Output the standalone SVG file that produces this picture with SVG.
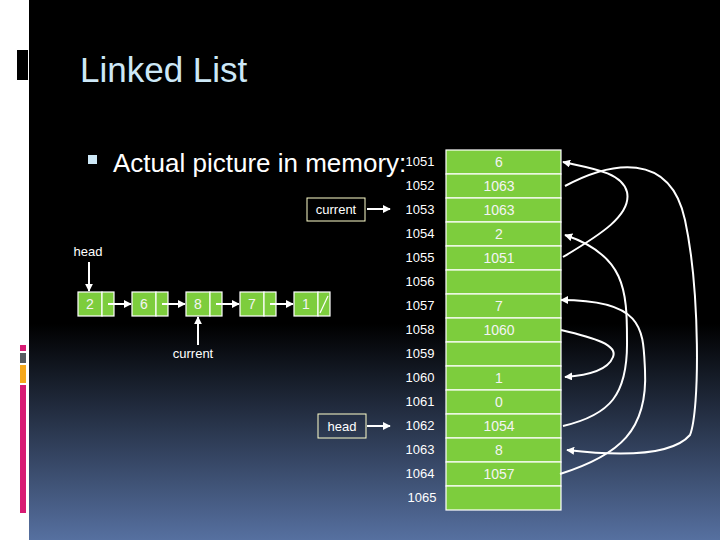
<svg xmlns="http://www.w3.org/2000/svg" width="720" height="540" viewBox="0 0 720 540">
<defs>
<linearGradient id="bg" x1="0" y1="0" x2="0" y2="1">
<stop offset="0" stop-color="#000"/><stop offset="0.6" stop-color="#000"/><stop offset="1" stop-color="#5670a0"/>
</linearGradient>
<marker id="ah" viewBox="0 0 10 10" refX="9" refY="5" markerWidth="4" markerHeight="4" orient="auto"><path d="M0,0L10,5L0,10z" fill="#fff"/></marker>
<style>
.c{fill:#7dcd3d;stroke:#fff;stroke-width:1.2}
.t{font-family:"Liberation Sans",Arial,sans-serif;fill:#fff}
.ct{font-family:"Liberation Sans",Arial,sans-serif;fill:#f4f4f4;font-size:14px;text-anchor:middle}
.a{font-family:"Liberation Sans",Arial,sans-serif;fill:#fff;font-size:13px;text-anchor:middle}
.l{stroke:#fff;stroke-width:2;fill:none}
.p{stroke:#fff;stroke-width:2;fill:none;marker-end:url(#ah)}
.b{fill:none;stroke:#ffffcc;stroke-width:1}
</style>
</defs>
<rect width="720" height="540" fill="url(#bg)"/>
<rect width="29" height="540" fill="#fff"/>
<rect x="17" y="50" width="11" height="30" fill="#000"/>
<rect x="20" y="345" width="6" height="6" fill="#d81b74"/>
<rect x="20" y="353" width="6" height="10" fill="#555a60"/>
<rect x="20" y="365" width="6" height="18" fill="#f5a81c"/>
<rect x="20" y="385" width="6" height="128" fill="#d81b74"/>
<text x="80" y="82" class="t" font-size="35" style="fill:#cde8f7">Linked List</text>
<rect x="88" y="155" width="9" height="9" fill="#cde8f7"/>
<g id="memory">
<text x="420" y="166" class="a">1051</text>
<text x="420" y="190" class="a">1052</text><text x="420" y="214" class="a">1053</text><text x="420" y="238" class="a">1054</text>
<text x="420" y="262" class="a">1055</text><text x="420" y="286" class="a">1056</text><text x="420" y="310" class="a">1057</text>
<text x="420" y="334" class="a">1058</text><text x="420" y="358" class="a">1059</text><text x="420" y="382" class="a">1060</text>
<text x="420" y="406" class="a">1061</text><text x="420" y="430" class="a">1062</text><text x="420" y="454" class="a">1063</text>
<text x="420" y="478" class="a">1064</text><text x="422" y="502" class="a">1065</text>
<rect class="c" x="446" y="150" width="115" height="24"/><rect class="c" x="446" y="174" width="115" height="24"/>
<rect class="c" x="446" y="198" width="115" height="24"/><rect class="c" x="446" y="222" width="115" height="24"/>
<rect class="c" x="446" y="246" width="115" height="24"/><rect class="c" x="446" y="270" width="115" height="24"/>
<rect class="c" x="446" y="294" width="115" height="24"/><rect class="c" x="446" y="318" width="115" height="24"/>
<rect class="c" x="446" y="342" width="115" height="24"/><rect class="c" x="446" y="366" width="115" height="24"/>
<rect class="c" x="446" y="390" width="115" height="24"/><rect class="c" x="446" y="414" width="115" height="24"/>
<rect class="c" x="446" y="438" width="115" height="24"/><rect class="c" x="446" y="462" width="115" height="24"/>
<rect class="c" x="446" y="486" width="115" height="24"/>
<text x="499" y="167" class="ct">6</text><text x="499" y="191" class="ct">1063</text><text x="499" y="215" class="ct">1063</text>
<text x="499" y="239" class="ct">2</text><text x="499" y="263" class="ct">1051</text><text x="499" y="311" class="ct">7</text>
<text x="499" y="335" class="ct">1060</text><text x="499" y="383" class="ct">1</text><text x="499" y="407" class="ct">0</text>
<text x="499" y="431" class="ct">1054</text><text x="499" y="455" class="ct">8</text><text x="499" y="479" class="ct">1057</text>
</g>
<text x="113" y="172" class="t" font-size="26">Actual picture in memory:</text>
<g id="n1"><rect class="c" x="78" y="292" width="24" height="24"/><rect class="c" x="102" y="292" width="12" height="24"/><text x="90" y="309" class="ct">2</text></g>
<g id="n2"><rect class="c" x="132" y="292" width="24" height="24"/><rect class="c" x="156" y="292" width="12" height="24"/><text x="144" y="309" class="ct">6</text></g>
<g id="n3"><rect class="c" x="186" y="292" width="24" height="24"/><rect class="c" x="210" y="292" width="12" height="24"/><text x="198" y="309" class="ct">8</text></g>
<g id="n4"><rect class="c" x="240" y="292" width="24" height="24"/><rect class="c" x="264" y="292" width="12" height="24"/><text x="252" y="309" class="ct">7</text></g>
<g id="n5"><rect class="c" x="294" y="292" width="24" height="24"/><rect class="c" x="318" y="292" width="12" height="24"/><text x="306" y="309" class="ct">1</text><line x1="320" y1="313" x2="328" y2="296" stroke="#fff" stroke-width="1.2"/></g>
<g id="labels">
<text x="88" y="256" class="a" font-size="14">head</text>
<text x="193" y="358" class="a" font-size="14">current</text>
<g id="curbox"><rect class="b" x="307" y="198" width="58" height="23"/><text x="336" y="214" class="a">current</text></g>
<g id="headbox"><rect class="b" x="318" y="414" width="48" height="24"/><text x="342" y="431" class="a">head</text></g>
</g>
<g id="connectors">
<path class="p" d="M89,262V291"/>
<path class="p" d="M198,345V317"/>
<path class="p" d="M108,304H131"/><path class="p" d="M162,304H185"/><path class="p" d="M216,304H239"/><path class="p" d="M270,304H293"/>
<path class="p" d="M367,209H390"/><path class="p" d="M367,426H390"/>
<path class="p" d="M563,257C600,235 632,215 627,192C622,172 590,168 563,162"/>
<path class="p" d="M565,186C610,162 670,150 685,220C700,290 700,410 690,435C670,458 610,455 567,450"/>
<path class="p" d="M563,426C610,415 628,395 627,340C627,290 625,255 565,235"/>
<path class="p" d="M560,474C620,455 648,430 645,370C643,330 645,300 561,300"/>
<path class="p" d="M561,330C595,338 618,345 613,357C608,370 590,375 565,377"/>
</g>
</svg>
